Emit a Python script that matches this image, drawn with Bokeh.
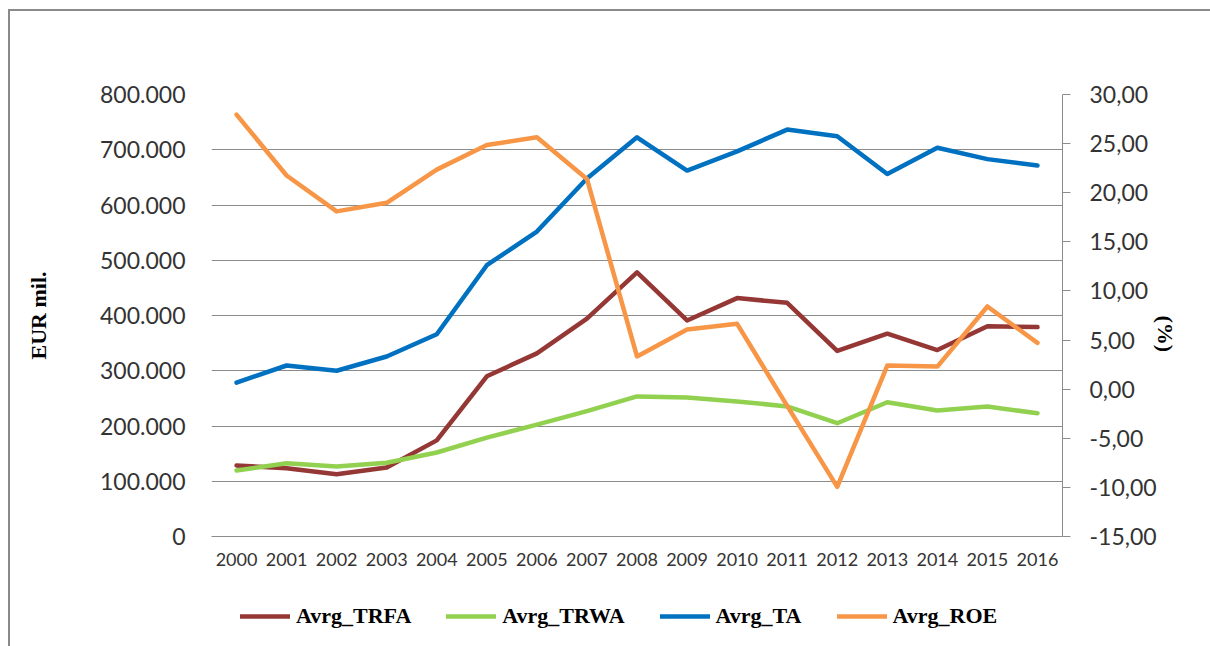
import math
from bokeh.plotting import figure
from bokeh.layouts import column
from bokeh.models import (Range1d, LinearAxis, FixedTicker, Legend, LegendItem,
                          FactorRange, InlineStyleSheet)
from bokeh.embed import file_html
from bokeh.resources import INLINE

# ---- data ----
years = ["2000", "2001", "2002", "2003", "2004", "2005", "2006", "2007", "2008",
         "2009", "2010", "2011", "2012", "2013", "2014", "2015", "2016"]
avrg_trfa = [128500, 123500, 112500, 125000, 174000, 290000, 331500, 394500, 478000,
             391000, 431500, 423000, 336000, 367000, 337500, 380500, 379000]
avrg_trwa = [119500, 132500, 126500, 133500, 152000, 179000, 202500, 227000, 253500,
             251500, 244500, 235500, 205000, 243000, 228000, 235300, 223000]
avrg_ta = [278500, 309500, 300000, 325800, 366000, 491000, 552000, 648000, 722500,
           662400, 697000, 736500, 724500, 656000, 703500, 683000, 671500]
avrg_roe = [27.95, 21.75, 18.1, 18.97, 22.35, 24.85, 25.65, 21.4, 3.33,
            6.07, 6.65, -1.7, -9.95, 2.4, 2.3, 8.42, 4.72]

eur_ticks = [0, 100000, 200000, 300000, 400000, 500000, 600000, 700000, 800000]
eur_labels = ["0", "100.000", "200.000", "300.000", "400.000", "500.000",
              "600.000", "700.000", "800.000"]
roe_ticks = [-15, -10, -5, 0, 5, 10, 15, 20, 25, 30]
roe_labels = ["-15,00", "-10,00", "-5,00", "0,00", "5,00", "10,00", "15,00",
              "20,00", "25,00", "30,00"]

series_names = ["Avrg_TRFA", "Avrg_TRWA", "Avrg_TA", "Avrg_ROE"]
series_values = [avrg_trfa, avrg_trwa, avrg_ta, avrg_roe]
colors = ["#953735", "#92D050", "#0070C0", "#F79646"]

GRID = "#8c8c8c"
BORDER = "#8a8a8a"
TICK_FONT = "Lato"
TICK_COLOR = "#333333"
LW = 4.5

p = figure(width=1210, height=590, x_range=FactorRange(*years),
           y_range=Range1d(0, 800000), output_backend="svg", toolbar_location=None,
           min_border_left=211, min_border_right=148, min_border_top=94,
           min_border_bottom=54)
p.outline_line_color = None
p.background_fill_color = "white"
p.border_fill_color = "white"

# left axis
la = p.left[0]
la.ticker = FixedTicker(ticks=eur_ticks)
la.major_label_overrides = dict(zip(eur_ticks, eur_labels))
la.axis_line_color = None
la.major_tick_line_color = None
la.minor_tick_line_color = None
la.major_tick_out = 0
la.major_tick_in = 0
la.major_label_standoff = 26
la.major_label_text_font = TICK_FONT
la.major_label_text_font_size = "23px"
la.major_label_text_color = TICK_COLOR
la.axis_label = "EUR mil."
la.axis_label_text_font = "Liberation Serif"
la.axis_label_text_font_style = "bold"
la.axis_label_text_font_size = "22px"
la.axis_label_text_color = "black"
la.axis_label_standoff = 46

p.ygrid.ticker = FixedTicker(ticks=eur_ticks)
p.ygrid.grid_line_color = GRID
p.ygrid.grid_line_width = 1
p.xgrid.grid_line_color = None

# x axis
xa = p.below[0]
xa.axis_line_color = GRID
xa.major_tick_line_color = None
xa.major_tick_out = 0
xa.major_tick_in = 0
xa.major_label_standoff = 16
xa.major_label_text_font = TICK_FONT
xa.major_label_text_font_size = "18px"
xa.major_label_text_color = TICK_COLOR

# right axis
p.extra_y_ranges = {"roe": Range1d(-15, 30)}
ra = LinearAxis(y_range_name="roe", ticker=FixedTicker(ticks=roe_ticks))
ra.major_label_overrides = dict(zip(roe_ticks, roe_labels))
ra.axis_line_color = GRID
ra.major_tick_line_color = GRID
ra.minor_tick_line_color = None
ra.major_tick_out = 8
ra.major_tick_in = 0
ra.major_label_standoff = 19
ra.major_label_text_font = TICK_FONT
ra.major_label_text_font_size = "23px"
ra.major_label_text_color = TICK_COLOR
ra.axis_label = "(%)"
ra.axis_label_text_font = "Liberation Serif"
ra.axis_label_text_font_style = "bold"
ra.axis_label_text_font_size = "22px"
ra.axis_label_text_color = "black"
ra.axis_label_standoff = 6
if "axis_label_orientation" in ra.properties():
    ra.axis_label_orientation = -math.pi / 2
p.add_layout(ra, "right")

# lines
p.line(years, avrg_trfa, line_color=colors[0], line_width=LW, line_join="round", line_cap="round")
p.line(years, avrg_trwa, line_color=colors[1], line_width=LW, line_join="round", line_cap="round")
p.line(years, avrg_ta, line_color=colors[2], line_width=LW, line_join="round", line_cap="round")
p.line(years, avrg_roe, line_color=colors[3], line_width=LW, line_join="round",
       line_cap="round", y_range_name="roe")

# legend strip below the chart (its plot area is aligned with the chart's)
lg = figure(width=1210, height=56, x_range=Range1d(0, 1), y_range=Range1d(5e6, 5e6 + 1),
            output_backend="svg", toolbar_location=None,
            x_axis_location=None, y_axis_location=None,
            min_border_left=0, min_border_right=0, min_border_top=0, min_border_bottom=0)
lg.outline_line_color = None
lg.xgrid.grid_line_color = None
lg.ygrid.grid_line_color = None
lg.background_fill_color = "white"
lg.border_fill_color = "white"
idx = list(range(len(years)))
# key renderers carry the series but fall outside this strip's range (only their legend keys show)
keys = [lg.line(idx, vals, line_color=c, line_width=LW, line_cap="round")
        for vals, c in zip(series_values, colors)]

legend = Legend(items=[LegendItem(label=n, renderers=[r]) for n, r in zip(series_names, keys)],
                orientation="horizontal", location=(29, 17))
legend.label_text_font = "Liberation Serif"
legend.label_text_font_style = "bold"
legend.label_text_font_size = "22px"
legend.label_text_color = "black"
legend.glyph_width = 50
legend.glyph_height = 22
legend.label_height = 22
legend.label_standoff = 6
legend.spacing = 35
legend.padding = 0
legend.margin = 0
legend.border_line_alpha = 0
legend.background_fill_alpha = 0
lg.add_layout(legend)

# outer chart border (only its top and left edges fall inside the picture)
p.stylesheets = [InlineStyleSheet(css="""
:host { position: relative; }
:host::after {
  content: ""; position: absolute; left: 8px; top: 9px; right: 0; bottom: 0;
  border-top: 2px solid %s; border-left: 2px solid %s;
  pointer-events: none; z-index: 100;
}
""" % (BORDER, BORDER))]
lg.stylesheets = [InlineStyleSheet(css="""
:host { position: relative; }
:host::after {
  content: ""; position: absolute; left: 8px; top: 0; right: 0; bottom: 0;
  border-left: 2px solid %s;
  pointer-events: none; z-index: 100;
}
""" % BORDER)]

layout = column(p, lg, spacing=0)
open("out.html", "w").write(file_html(layout, INLINE))
